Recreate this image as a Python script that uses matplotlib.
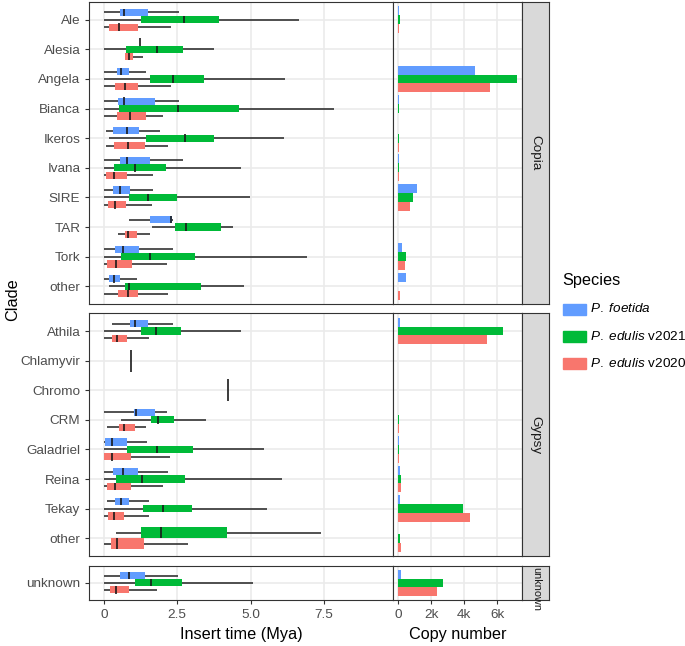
import matplotlib
matplotlib.use("Agg")
import matplotlib.pyplot as plt
from matplotlib.patches import Rectangle
import numpy as np

plt.rcParams['font.family'] = ['Liberation Sans', 'DejaVu Sans']
plt.rcParams['mathtext.fontset'] = 'custom'
plt.rcParams['mathtext.it'] = 'Liberation Sans:italic'
plt.rcParams['mathtext.rm'] = 'Liberation Sans'

copia = ['Ale', 'Alesia', 'Angela', 'Bianca', 'Ikeros', 'Ivana', 'SIRE', 'TAR', 'Tork', 'other']
gypsy = ['Athila', 'Chlamyvir', 'Chromo', 'CRM', 'Galadriel', 'Reina', 'Tekay', 'other']
unknown = ['unknown']

species = ['P. foetida', 'P. edulis v2021', 'P. edulis v2020']
colors = ['#619CFF', '#00BA38', '#F8766D']

# insert time stats (whisker low, q1, median, q3, whisker high), None = no data
foetida_copia = [(0, .55, .69, 1.49, 2.56), (1.23, 1.23, 1.23, 1.23, 1.23), (0, .43, .59, .84, 1.42),
                 (0, .48, .69, 1.74, 2.56), (.07, .30, .78, 1.19, 1.91), (0, .55, .80, 1.57, 2.69),
                 (0, .32, .55, .89, 1.69), (.85, 1.57, 2.30, 2.33, 2.36), (0, .38, .65, 1.18, 2.36),
                 (0, .16, .33, .55, 1.13)]
v2021_copia = [(0, 1.26, 2.72, 3.92, 6.64), (0, .76, 1.82, 2.68, 3.74), (0, 1.57, 2.35, 3.40, 6.18),
               (0, .53, 2.53, 4.61, 7.85), (.18, 1.43, 2.76, 3.74, 6.15), (0, .35, 1.07, 2.11, 4.67),
               (0, .84, 1.49, 2.49, 4.98), (1.63, 2.42, 2.80, 4.00, 4.41), (0, .58, 1.58, 3.10, 6.91),
               (.18, .72, .84, 3.31, 4.77)]
v2020_copia = [(0, .17, .53, 1.15, 2.28), (.73, .73, .86, .98, 1.32), (0, .38, .72, 1.15, 2.28),
               (0, .44, .90, 1.42, 2.00), (.07, .35, .83, 1.41, 2.19), (0, .07, .33, .80, 1.66),
               (0, .15, .39, .75, 1.63), (.48, .72, .81, 1.14, 1.56), (0, .11, .40, .97, 2.14),
               (0, .49, .83, 1.17, 2.19)]

foetida_gypsy = [(.26, .875, 1.07, 1.49, 2.35), None, None, (0, 1.01, 1.10, 1.74, 2.14),
                 (0, .05, .26, .80, 1.47), (0, .32, .64, 1.16, 2.19), (.09, .38, .58, .85, 1.52), None]
v2021_gypsy = [(0, 1.27, 1.78, 2.63, 4.66), (.91, .91, .91, .91, .91), (4.22, 4.22, 4.22, 4.22, 4.22),
               (.58, 1.60, 1.84, 2.39, 3.47), (0, .80, 1.80, 3.05, 5.45), (0, .41, 1.31, 2.76, 6.09),
               (0, 1.33, 2.00, 3.02, 5.57), (.40, 1.28, 1.93, 4.20, 7.42)]
v2020_gypsy = [(0, .26, .45, .78, 1.53), None, None, (.11, .52, .70, 1.06, 1.42),
               (0, 0, .28, .91, 2.25), (0, .09, .38, .91, 2.00), (0, .14, .34, .70, 1.55),
               (0, .23, .45, 1.36, 2.85)]

foetida_unknown = [(0, .55, .84, 1.41, 2.51)]
v2021_unknown = [(0, 1.05, 1.59, 2.67, 5.09)]
v2020_unknown = [(0, .20, .41, .85, 1.81)]

# copy numbers
foetida_copy_copia = [30, 5, 4650, 30, 20, 40, 1130, 5, 220, 480]
v2021_copy_copia = [100, 20, 7190, 40, 60, 80, 870, 20, 460, 20]
v2020_copy_copia = [80, 10, 5580, 20, 30, 40, 690, 10, 420, 100]
foetida_copy_gypsy = [140, 0, 0, 10, 40, 120, 140, 0]
v2021_copy_gypsy = [6360, 0, 0, 40, 40, 180, 3940, 100]
v2020_copy_gypsy = [5370, 0, 0, 40, 40, 180, 4340, 160]
foetida_copy_unknown = [180]
v2021_copy_unknown = [2730]
v2020_copy_unknown = [2340]

rows = [
    ('Copia', copia, [foetida_copia, v2021_copia, v2020_copia],
     [foetida_copy_copia, v2021_copy_copia, v2020_copy_copia], (2, 304)),
    ('Gypsy', gypsy, [foetida_gypsy, v2021_gypsy, v2020_gypsy],
     [foetida_copy_gypsy, v2021_copy_gypsy, v2020_copy_gypsy], (313.3, 556)),
    ('unknown', unknown, [foetida_unknown, v2021_unknown, v2020_unknown],
     [foetida_copy_unknown, v2021_copy_unknown, v2020_copy_unknown], (565.7, 600)),
]

W, H = 685, 646
fig = plt.figure(figsize=(W / 100, H / 100), dpi=100)


def rect(x0, x1, y0, y1):
    return [x0 / W, 1 - y1 / H, (x1 - x0) / W, (y1 - y0) / H]


def style(ax):
    for s in ax.spines.values():
        s.set_color('#333333')
        s.set_linewidth(0.8)
    ax.set_axisbelow(True)
    ax.grid(True, color='#EBEBEB', lw=1.2)
    ax.tick_params(colors='#333333', labelcolor='#4D4D4D', labelsize=9.7, length=3, width=0.8)


for k, (strip, cats, stats, copies, (y0, y1)) in enumerate(rows):
    n = len(cats)
    last = k == len(rows) - 1
    ax1 = fig.add_axes(rect(89.3, 392.7, y0, y1))
    ax2 = fig.add_axes(rect(392.7, 522.3, y0, y1))
    axs = fig.add_axes(rect(522.3, 549.3, y0, y1))
    for ax in (ax1, ax2):
        style(ax)
        ax.set_ylim(n - 0.4, -0.6)
        ax.set_yticks(range(n))
    ax1.set_yticklabels(cats)
    ax2.tick_params(axis='y', left=False, labelleft=False)
    ax1.set_xlim(-0.5, 9.85)
    ax2.set_xlim(-330, 7520)
    ax1.set_xticks([0, 2.5, 5, 7.5])
    ax2.set_xticks([0, 2000, 4000, 6000])
    if last:
        ax1.set_xticklabels(['0', '2.5', '5.0', '7.5'])
        ax2.set_xticklabels(['0', '2k', '4k', '6k'])
        ax1.set_xlabel('Insert time (Mya)', fontsize=11.7, labelpad=4)
        ax2.set_xlabel('Copy number', fontsize=11.7, labelpad=4)
    else:
        ax1.tick_params(axis='x', bottom=False, labelbottom=False)
        ax2.tick_params(axis='x', bottom=False, labelbottom=False)

    # boxplots, dodged among species present
    for i in range(n):
        present = [j for j in range(3) if stats[j][i] is not None]
        w = 0.75 / len(present)
        for m, j in enumerate(present):
            lo, q1, med, q3, hi = stats[j][i]
            yc = i - 0.375 + w * (m + 0.5)
            ax1.hlines(yc, lo, hi, color='#333333', lw=1.2, zorder=2)
            ax1.barh(yc, q3 - q1, left=q1, height=w * 0.98, color=colors[j],
                     edgecolor='none', zorder=3)
            ax1.vlines(med, yc - w / 2, yc + w / 2, color='#1A1A1A', lw=1.2, zorder=4)

    # copy number bars
    ypos = np.arange(n)
    for j in range(3):
        ax2.barh(ypos - 0.3 + 0.3 * j, copies[j], height=0.3, color=colors[j],
                 edgecolor='none', zorder=3)

    axs.set_facecolor('#D9D9D9')
    axs.set_xticks([])
    axs.set_yticks([])
    for s in axs.spines.values():
        s.set_color('#333333')
        s.set_linewidth(0.8)
    if strip == 'unknown':
        axs.text(0.5, 0.97, strip, rotation=-90, ha='center', va='top',
                 fontsize=7.8, color='#1A1A1A', transform=axs.transAxes, clip_on=False)
    else:
        axs.text(0.5, 0.5, strip, rotation=-90, ha='center', va='center',
                 fontsize=9.7, color='#1A1A1A', transform=axs.transAxes)

fig.text(13 / W, 1 - 300 / H, 'Clade', rotation=90, ha='center', va='center', fontsize=11.7)

# legend
fig.text(562 / W, 1 - 281 / H, 'Species', ha='left', va='center', fontsize=11.7)
labels = [r'$\it{P.\ foetida}$', r'$\it{P.\ edulis}$ v2021', r'$\it{P.\ edulis}$ v2020']
for j, lab in enumerate(labels):
    yc = 309 + 27 * j
    fig.patches.append(Rectangle((563 / W, 1 - (yc + 5.5) / H), 23 / W, 11 / H,
                                 transform=fig.transFigure, color=colors[j], figure=fig))
    fig.text(590 / W, 1 - yc / H, lab, ha='left', va='center', fontsize=9.7)

fig.savefig('out.png', dpi=100)
